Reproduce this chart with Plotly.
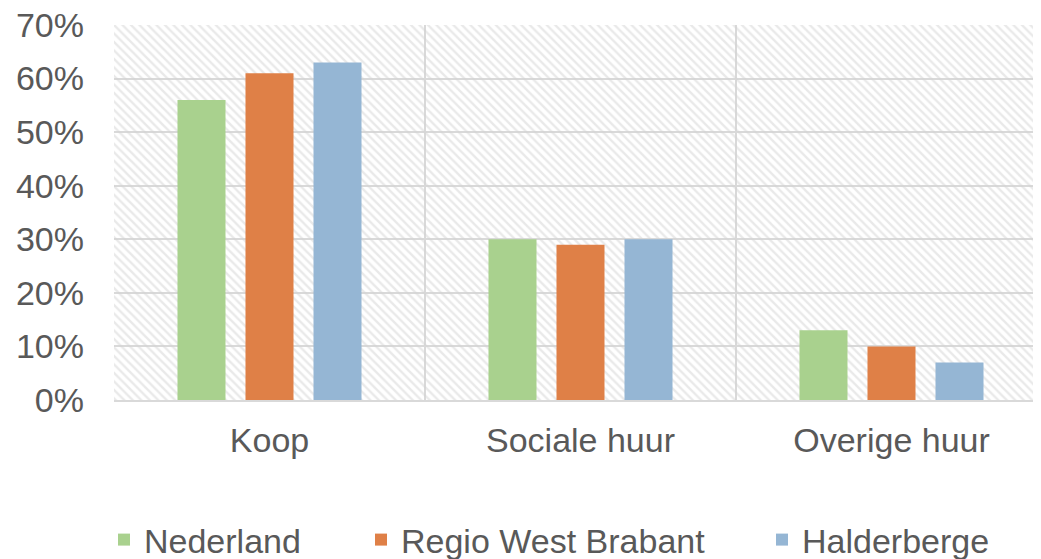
import plotly.graph_objects as go

categorieen = ["Koop", "Sociale huur", "Overige huur"]
nederland = [0.56, 0.30, 0.13]
regio_west_brabant = [0.61, 0.29, 0.10]
halderberge = [0.63, 0.30, 0.07]
reeksen = ["Nederland", "Regio West Brabant", "Halderberge"]
kleuren = ["#A9D18E", "#DF8047", "#95B6D4"]
Y_MAX = 0.7

# de pagina heeft 8px body-marge, dus de figuur zelf is iets kleiner
OFF = 8
W, H = 1041 - OFF, 559 - OFF
LEFT, TOP, BOTTOM = 114 - OFF, 25 - OFF, 400 - OFF
CAT_PX = 311  # breedte van een categorie in px

fig = go.Figure()

# gearceerde achtergrond (Excel-stijl) op de basis x-as, onder de staven
fig.add_trace(go.Bar(x=[0.5], y=[Y_MAX], width=[1], xaxis="x", showlegend=False,
                     hoverinfo="skip",
                     marker=dict(color="rgba(0,0,0,0)", line=dict(width=0),
                                 pattern=dict(shape="\\", fgcolor="#d4d4d4", bgcolor="rgba(0,0,0,0)",
                                              size=6, solidity=0.4))))

legend_ids = ["legend", "legend2", "legend3"]
for naam, waarden, kleur, lg in zip(reeksen, [nederland, regio_west_brabant, halderberge], kleuren, legend_ids):
    fig.add_trace(go.Bar(x=categorieen, y=waarden, name=naam, marker_color=kleur,
                         marker_line_width=0, xaxis="x2", legend=lg))

tekst_start = [145, 402, 803]  # schermpositie waar de legendatekst begint
leg_y = 1 - (540 - OFF) / H


def legenda(px):
    return dict(orientation="h", xref="container", yref="container", x=(px - OFF - 41) / W,
                xanchor="left", y=leg_y, yanchor="middle", font=dict(size=34), itemwidth=30,
                bgcolor="rgba(0,0,0,0)")


fig.update_layout(
    width=W, height=H,
    margin=dict(l=LEFT, r=0, t=TOP, b=H - BOTTOM),
    plot_bgcolor="white", paper_bgcolor="white",
    font=dict(family="Liberation Sans, Arial", size=34, color="#595959"),
    barmode="group", bargap=0.344, bargroupgap=0.294,
    xaxis=dict(range=[0, 1], visible=False, automargin=False),
    xaxis2=dict(overlaying="x", anchor="y", side="bottom",
                range=[-0.5, -0.5 + (W - LEFT) / CAT_PX], tickson="boundaries",
                showgrid=True, gridcolor="#d9d9d9", gridwidth=2,
                showline=True, linecolor="#d9d9d9", linewidth=2, ticks="",
                ticklabelstandoff=9, automargin=False),
    yaxis=dict(range=[0, Y_MAX], dtick=0.1, tickformat=".0%", showgrid=True, gridcolor="#d9d9d9",
               gridwidth=2, zeroline=False, ticks="", ticklabelstandoff=29, automargin=False,
               ticklabeloverflow="allow"),
    legend=legenda(tekst_start[0]),
    legend2=legenda(tekst_start[1]),
    legend3=legenda(tekst_start[2]),
    showlegend=True,
)

fig.write_html("out.html")
